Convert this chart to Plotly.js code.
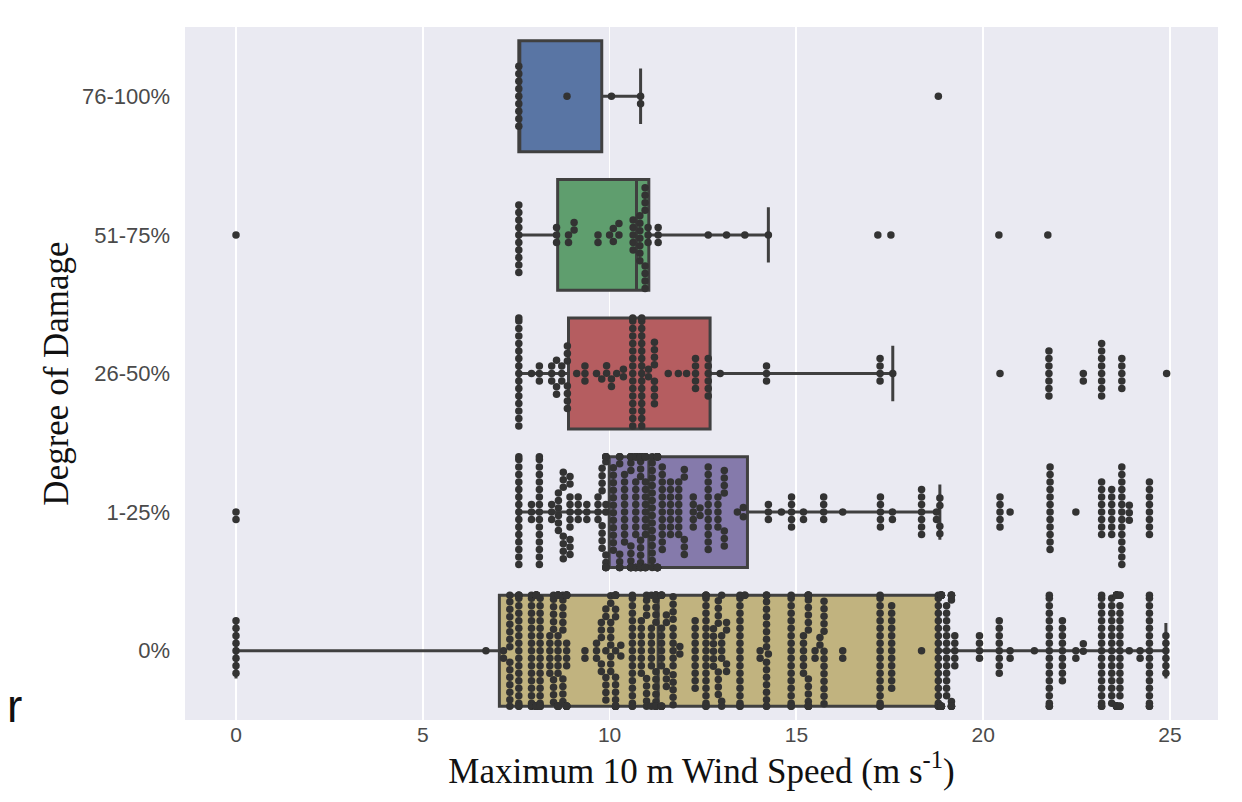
<!DOCTYPE html>
<html>
<head>
<meta charset="utf-8">
<script src="https://cdn.plot.ly/plotly-3.0.1.min.js"></script>
<style>html,body{margin:0;padding:0;background:#fff;}#chart{width:1242px;height:802px;}</style>
</head>
<body>
<div id="chart"></div>
<script>
// Category labels (top to bottom)
const categories = ['76-100%', '51-75%', '26-50%', '1-25%', '0%'];
const boxColors = ['#5975a4', '#5f9e6e', '#b55d60', '#857aab', '#c1b37f'];

// Box statistics (m s-1)
const q1 = [7.57, 8.61, 8.90, 9.99, 7.05];
const median = [7.57, 10.72, 10.86, 11.05, 11.30];
const q3 = [9.79, 11.05, 12.69, 13.69, 18.80];
const lowerFence = [7.57, 7.57, 7.57, 7.57, 0.0];
const upperFence = [10.83, 14.25, 17.58, 18.84, 24.89];

// Swarm points: wind-speed values and how many points sit at each value
const vals76 = [7.57, 8.86, 10.05, 10.83, 18.8];
const cnt76  = [9, 1, 1, 2, 1];

const vals51 = [0, 7.57, 8.58, 8.9, 9.05, 9.69, 10.0, 10.1, 10.25, 10.63, 10.81, 10.95, 11.03, 11.3, 12.64, 13.13, 13.62, 14.25, 17.18, 17.53, 20.42, 21.73];
const cnt51  = [1, 10, 3, 2, 2, 2, 1, 2, 2, 5, 7, 8, 3, 3, 1, 1, 1, 1, 1, 1, 1, 1];

const vals26 = [7.57, 7.91, 8.12, 8.45, 8.58, 8.72, 8.87, 9.12, 9.34, 9.65, 9.79, 9.92, 10.05, 10.19, 10.37, 10.62, 10.86, 11.04, 11.2, 11.57, 11.84, 12.06, 12.3, 12.64, 12.96, 14.2, 17.24, 17.58, 20.45, 21.76, 22.68, 23.17, 23.71, 24.91];
const cnt26  = [16, 1, 3, 3, 3, 3, 7, 1, 3, 1, 1, 2, 2, 1, 2, 16, 16, 2, 8, 1, 1, 1, 5, 6, 1, 3, 4, 1, 1, 7, 2, 8, 5, 1];

const vals1 = [0, 7.57, 7.91, 8.12, 8.45, 8.63, 8.76, 8.94, 9.16, 9.39, 9.69, 9.8, 9.9, 10.1, 10.27, 10.4, 10.57, 10.7, 10.83, 10.96, 11.14, 11.28, 11.41, 11.63, 11.85, 12.0, 12.24, 12.42, 12.64, 12.9, 13.07, 13.42, 13.58, 14.25, 14.6, 14.87, 15.19, 15.73, 16.24, 17.25, 17.57, 18.35, 18.75, 18.84, 20.45, 20.72, 21.79, 22.48, 23.17, 23.44, 23.71, 23.91, 24.45];
const cnt1  = [2, 16, 3, 16, 3, 6, 7, 10, 4, 3, 4, 8, 13, 12, 9, 10, 16, 16, 16, 16, 16, 16, 12, 8, 8, 5, 5, 2, 12, 5, 7, 1, 2, 3, 1, 5, 2, 4, 1, 5, 2, 7, 2, 4, 5, 1, 12, 1, 8, 7, 14, 3, 8];

const vals0 = [0, 6.69, 7.16, 7.33, 7.57, 7.91, 8.04, 8.14, 8.4, 8.5, 8.62, 8.75, 8.85, 9.34, 9.65, 9.78, 9.9, 10.03, 10.16, 10.3, 10.61, 10.85, 10.99, 11.12, 11.24, 11.39, 11.52, 11.7, 11.88, 12.29, 12.58, 12.78, 12.91, 13.0, 13.13, 13.49, 13.62, 14.03, 14.2, 14.25, 14.86, 15.19, 15.32, 15.5, 15.63, 15.74, 16.24, 17.24, 17.55, 18.35, 18.8, 18.88, 19.02, 19.15, 19.24, 19.9, 20.43, 20.72, 21.37, 21.77, 22.12, 22.48, 22.68, 23.17, 23.44, 23.57, 23.66, 23.91, 24.2, 24.45, 24.89];
const cnt0  = [8, 1, 2, 15, 20, 18, 18, 18, 6, 10, 18, 10, 18, 2, 3, 5, 7, 9, 18, 2, 18, 8, 9, 8, 18, 14, 5, 15, 2, 10, 20, 6, 8, 7, 4, 18, 2, 2, 18, 1, 18, 6, 18, 2, 2, 13, 2, 18, 12, 1, 18, 14, 13, 10, 5, 4, 8, 2, 1, 18, 9, 2, 2, 18, 15, 18, 18, 1, 2, 18, 6];

const groupVals = [vals76, vals51, vals26, vals1, vals0];
const groupCnts = [cnt76, cnt51, cnt26, cnt1, cnt0];

// Layout geometry
const M = {l: 185, r: 24, t: 27, b: 82};
const W = 1242, H = 802;
const xRange = [-1.365, 26.285];
const yRange = [4.5, -0.5];
const pxX = (W - M.l - M.r) / (xRange[1] - xRange[0]);
const pxY = (H - M.t - M.b) / Math.abs(yRange[0] - yRange[1]);
const DOT = 7.5;           // swarm spacing (px)
const HALF = 0.4 * pxY;    // swarm half width (px)

function swarmOffsets(values) {
  const placed = [];
  const out = [];
  for (const v of values) {
    const xp = v * pxX;
    const nb = [];
    for (let k = placed.length - 1; k >= 0; k--) {
      if (xp - placed[k].x >= DOT) break;
      nb.push(placed[k]);
    }
    const cands = [0];
    nb.forEach(p => {
      const dx = p.x - xp;
      const dy = Math.sqrt(Math.max(DOT * DOT - dx * dx, 0));
      cands.push(p.y + dy, p.y - dy);
    });
    cands.sort((a, b) => Math.abs(a) - Math.abs(b));
    let chosen = cands[cands.length - 1];
    for (const c of cands) {
      let ok = true;
      for (const p of nb) {
        const dx = p.x - xp, dy = p.y - c;
        if (dx * dx + dy * dy < DOT * DOT - 1e-6) { ok = false; break; }
      }
      if (ok) { chosen = c; break; }
    }
    placed.push({x: xp, y: chosen});
    out.push(Math.max(-HALF, Math.min(HALF, chosen)));
  }
  return out;
}

const traces = [];
categories.forEach((cat, i) => {
  traces.push({
    type: 'box', orientation: 'h',
    y: [i], q1: [q1[i]], median: [median[i]], q3: [q3[i]],
    lowerfence: [lowerFence[i]], upperfence: [upperFence[i]],
    width: 0.8, whiskerwidth: 0.5,
    fillcolor: boxColors[i],
    line: {color: '#404040', width: 3},
    boxpoints: false, hoverinfo: 'skip', showlegend: false
  });
});

const sx = [], sy = [];
groupVals.forEach((vals, i) => {
  const all = [];
  vals.forEach((v, j) => { for (let k = 0; k < groupCnts[i][j]; k++) all.push(v); });
  all.sort((a, b) => a - b);
  const offs = swarmOffsets(all);
  all.forEach((v, j) => { sx.push(v); sy.push(i + offs[j] / pxY); });
});
traces.push({
  type: 'scatter', mode: 'markers', x: sx, y: sy,
  marker: {color: '#333333', size: 7.5, line: {width: 0}},
  hoverinfo: 'skip', showlegend: false, cliponaxis: false
});

const layout = {
  width: W, height: H,
  margin: M,
  paper_bgcolor: '#ffffff',
  plot_bgcolor: '#EAEAF2',
  showlegend: false,
  boxmode: 'overlay',
  xaxis: {
    range: xRange, tickvals: [0, 5, 10, 15, 20, 25],
    showgrid: true, gridcolor: '#ffffff', gridwidth: 1.8,
    zeroline: false, showline: false, ticks: '',
    tickfont: {family: 'Liberation Sans, Arial, sans-serif', size: 21, color: '#4a4a4a'},
    title: {text: 'Maximum 10 m Wind Speed (m s<sup>-1</sup>)', standoff: 8,
            font: {family: 'Liberation Serif, Times New Roman, serif', size: 35, color: '#111111'}}
  },
  yaxis: {
    range: yRange, tickvals: [0, 1, 2, 3, 4], ticktext: categories,
    showgrid: false, zeroline: false, showline: false, ticks: '',
    ticklabelstandoff: 14,
    tickfont: {family: 'Liberation Sans, Arial, sans-serif', size: 22, color: '#4a4a4a'},
    title: {text: 'Degree of Damage', standoff: 2,
            font: {family: 'Liberation Serif, Times New Roman, serif', size: 35, color: '#111111'}}
  },
  annotations: [{
    text: 'r', xref: 'paper', yref: 'paper', x: -0.165, y: 0.02,
    showarrow: false, xanchor: 'center', yanchor: 'middle',
    font: {family: 'Liberation Sans, Arial, sans-serif', size: 46, color: '#111111'}
  }]
};

Plotly.newPlot('chart', traces, layout, {displayModeBar: false, staticPlot: true});
</script>
</body>
</html>
